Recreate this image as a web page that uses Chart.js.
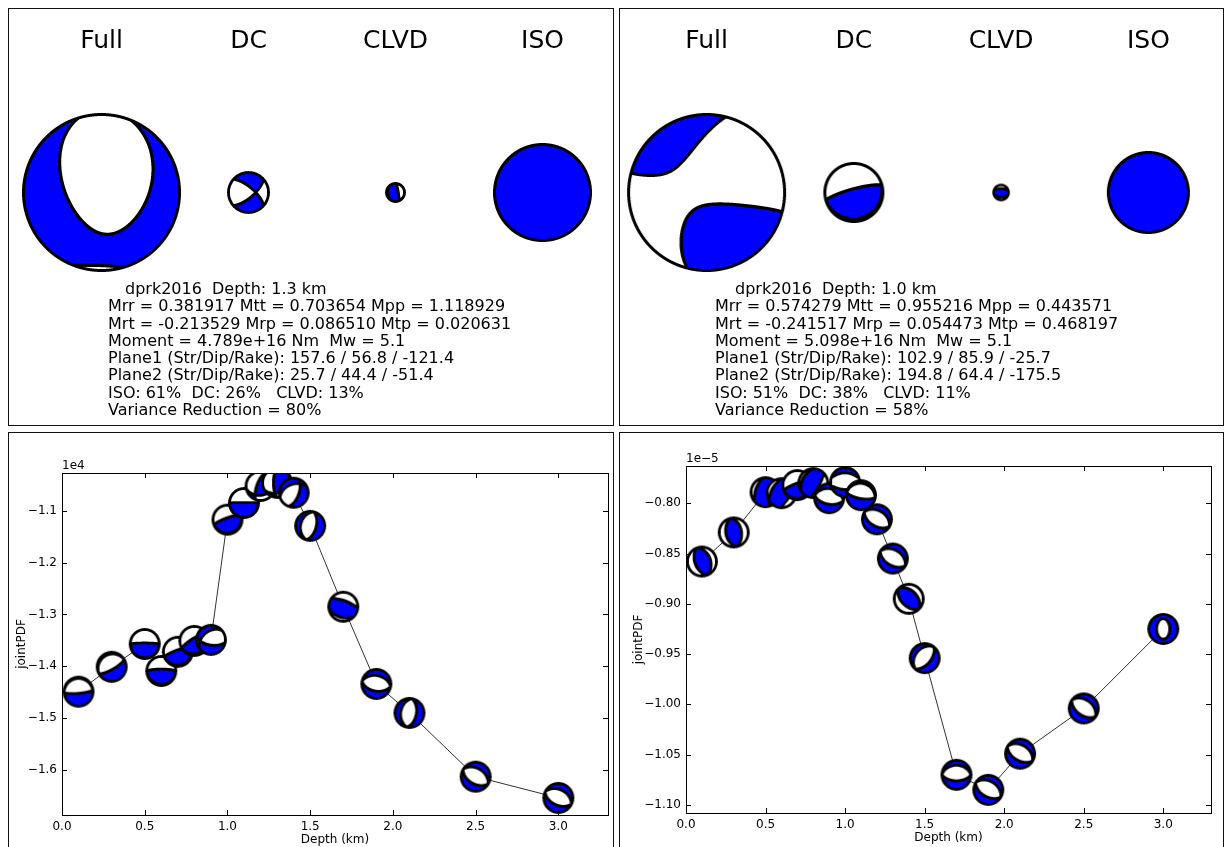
<!DOCTYPE html>
<html>
<head>
  <title>dprk2016 moment tensor vs depth</title>
  <script src="https://cdn.jsdelivr.net/npm/chart.js"></script>
  <style>
    body {
      margin: 0;
      background: #fff;
      font-family: "DejaVu Sans", sans-serif;
    }
    .panel {
      position: absolute;
      box-sizing: border-box;
      border: 1px solid #111;
      overflow: hidden;
    }
    .panel canvas {
      position: absolute;
      left: 0;
      top: 0;
    }
    .info {
      position: absolute;
      font-size: 16px;
      line-height: 17.3px;
      white-space: pre;
      color: #000;
    }
  </style>
</head>
<body>

  <!-- top panels: mechanism + text -->
  <div class="panel" style="left:8px; top:8px; width:606px; height:418px;">
    <canvas id="topLeft" width="612" height="323"></canvas>
    <div class="info" id="infoLeft" style="left:99px; top:271px;"></div>
  </div>
  <div class="panel" style="left:619px; top:8px; width:605px; height:418px;">
    <canvas id="topRight" width="607" height="323"></canvas>
    <div class="info" id="infoRight" style="left:95px; top:271px;"></div>
  </div>

  <!-- bottom panels: jointPDF vs depth -->
  <div class="panel" style="left:8px; top:432px; width:606px; height:420px;">
    <canvas id="pdfLeft" width="604" height="418"></canvas>
  </div>
  <div class="panel" style="left:619px; top:432px; width:605px; height:420px;">
    <canvas id="pdfRight" width="603" height="418"></canvas>
  </div>

  <script>
    // ---- data ----
    var components = ['Full', 'DC', 'CLVD', 'ISO'];

    // Mrr, Mtt, Mpp, Mrt, Mrp, Mtp
    var tensorLeft = [0.381917, 0.703654, 1.118929, -0.213529, 0.086510, 0.020631];
    var tensorRight = [0.574279, 0.955216, 0.443571, -0.241517, 0.054473, 0.468197];

    // DC part as T trend/plunge, P trend/plunge
    var dcAxesLeft = [0, 0, 270, 30];
    var dcAxesRight = [165, 55, 345, 35];

    var infoLeft = [
      'dprk2016  Depth: 1.3 km',
      'Mrr = 0.381917 Mtt = 0.703654 Mpp = 1.118929',
      'Mrt = -0.213529 Mrp = 0.086510 Mtp = 0.020631',
      'Moment = 4.789e+16 Nm  Mw = 5.1',
      'Plane1 (Str/Dip/Rake): 157.6 / 56.8 / -121.4',
      'Plane2 (Str/Dip/Rake): 25.7 / 44.4 / -51.4',
      'ISO: 61%  DC: 26%   CLVD: 13%',
      'Variance Reduction = 80%'
    ];
    var infoRight = [
      'dprk2016  Depth: 1.0 km',
      'Mrr = 0.574279 Mtt = 0.955216 Mpp = 0.443571',
      'Mrt = -0.241517 Mrp = 0.054473 Mtp = 0.468197',
      'Moment = 5.098e+16 Nm  Mw = 5.1',
      'Plane1 (Str/Dip/Rake): 102.9 / 85.9 / -25.7',
      'Plane2 (Str/Dip/Rake): 194.8 / 64.4 / -175.5',
      'ISO: 51%  DC: 38%   CLVD: 11%',
      'Variance Reduction = 58%'
    ];

    var depths = [0.1, 0.3, 0.5, 0.6, 0.7, 0.8, 0.9, 1.0, 1.1, 1.2, 1.3, 1.4, 1.5, 1.7, 1.9, 2.1, 2.5, 3.0];

    // jointPDF, left in units of 1e4, right in units of 1e-5
    var pdfLeft = [-1.449, -1.401, -1.357, -1.409, -1.372, -1.351, -1.349, -1.117, -1.085, -1.052, -1.046, -1.065, -1.129, -1.285, -1.434, -1.490, -1.613, -1.654];
    var pdfRight = [-0.858, -0.829, -0.789, -0.790, -0.782, -0.780, -0.795, -0.779, -0.792, -0.816, -0.855, -0.895, -0.954, -1.070, -1.085, -1.049, -1.004, -0.925];

    // markers: strike / dip / rake / isotropic shift
    var strikeLeft = [85, 60, 270, 270, 250, 240, 100, 250, 270, 200, 180, 20, 15, 290, 100, 10, 120, 115];
    var dipLeft = [80, 75, 85, 80, 80, 75, 60, 80, 88, 70, 70, 60, 55, 60, 48, 50, 48, 48];
    var rakeLeft = [-90, -90, 90, 90, 90, 90, -60, 90, 90, 60, 60, -120, -90, 90, -90, -90, -90, -90];
    var shiftLeft = [0, 0, 0, 0, 0, 0, 0, 0, 0, 0, 0, 0, 0, 0.15, 0, 0, 0, 0];

    var strikeRight = [160, 170, 200, 210, 250, 30, 100, 90, 100, 120, 120, 135, 40, 90, 120, 120, 125, 0];
    var dipRight = [50, 45, 40, 40, 80, 60, 55, 50, 70, 50, 50, 48, 55, 55, 50, 50, 50, 45];
    var rakeRight = [90, 90, 90, 90, 90, 90, -90, -90, -90, -90, -90, 90, -90, -90, -90, -90, -90, -90];
    var shiftRight = [0, 0, 0.3, 0.3, 0, 0.2, 0, -0.1, 0, 0, 0, 0, 0, 0, 0, 0, 0, 0.25];

    var xTicks = [0.0, 0.5, 1.0, 1.5, 2.0, 2.5, 3.0];
    var yTicksLeft = [-1.1, -1.2, -1.3, -1.4, -1.5, -1.6];
    var yTicksRight = [-0.80, -0.85, -0.90, -0.95, -1.00, -1.05, -1.10];

    // ---- beachball drawing ----
    function dcTensor(strike, dip, rake) {
      var f = strike * Math.PI / 180, d = dip * Math.PI / 180, l = rake * Math.PI / 180;
      var sd = Math.sin(d), cd = Math.cos(d), s2d = Math.sin(2 * d), c2d = Math.cos(2 * d);
      var sl = Math.sin(l), cl = Math.cos(l), sf = Math.sin(f), cf = Math.cos(f);
      var s2f = Math.sin(2 * f), c2f = Math.cos(2 * f);
      var nn = -(sd * cl * s2f + s2d * sl * sf * sf);
      var ne = sd * cl * c2f + 0.5 * s2d * sl * s2f;
      var nd = -(cd * cl * cf + c2d * sl * sf);
      var ee = sd * cl * s2f - s2d * sl * cf * cf;
      var ed = -(cd * cl * sf - c2d * sl * cf);
      var dd = s2d * sl;
      return [[nn, ne, nd], [ne, ee, ed], [nd, ed, dd]];
    }

    function axisVec(trend, plunge) {
      var t = trend * Math.PI / 180, p = plunge * Math.PI / 180;
      return [Math.cos(p) * Math.cos(t), Math.cos(p) * Math.sin(t), Math.sin(p)];
    }

    function dcFromAxes(ax) {
      var T = axisVec(ax[0], ax[1]), P = axisVec(ax[2], ax[3]);
      var M = [[0, 0, 0], [0, 0, 0], [0, 0, 0]];
      for (var i = 0; i < 3; i++) for (var j = 0; j < 3; j++) M[i][j] = T[i] * T[j] - P[i] * P[j];
      return M;
    }

    function rtpToNed(m) {
      return [[m[1], -m[5], m[3]], [-m[5], m[2], -m[4]], [m[3], -m[4], m[0]]];
    }

    function makeBall(M, shift, R, lw) {
      var S = 4;
      var size = Math.ceil(2 * R + lw + 2);
      var G = size * S, half = size / 2;
      var sign = new Int8Array(G * G);
      var distArr = new Float32Array(G * G);
      for (var j = 0; j < G; j++) {
        for (var i = 0; i < G; i++) {
          var px = (i + 0.5) / S - half, py = (j + 0.5) / S - half;
          var dist = Math.sqrt(px * px + py * py);
          distArr[j * G + i] = dist;
          if (dist >= R) continue;
          var e = px / R, n = -py / R, rr = dist / R;
          var inc = 2 * Math.asin(rr / Math.SQRT2);
          var si = Math.sin(inc);
          var vec = [rr > 0 ? si * n / rr : 0, rr > 0 ? si * e / rr : 0, Math.cos(inc)];
          var q = shift;
          for (var a = 0; a < 3; a++) for (var b = 0; b < 3; b++) q += M[a][b] * vec[a] * vec[b];
          sign[j * G + i] = q > 0 ? 1 : -1;
        }
      }
      // nodal lines: paint a disk around every sign change
      var line = new Uint8Array(G * G);
      var rad = lw / 2 * S, ri = Math.ceil(rad);
      function paint(ci, cj) {
        for (var dj = -ri; dj <= ri; dj++) {
          for (var di = -ri; di <= ri; di++) {
            if (di * di + dj * dj > rad * rad) continue;
            var x = ci + di, y = cj + dj;
            if (x >= 0 && y >= 0 && x < G && y < G) line[y * G + x] = 1;
          }
        }
      }
      for (var j2 = 0; j2 < G - 1; j2++) {
        for (var i2 = 0; i2 < G - 1; i2++) {
          var s0 = sign[j2 * G + i2];
          if (!s0) continue;
          var sr = sign[j2 * G + i2 + 1], sb = sign[(j2 + 1) * G + i2];
          if ((sr && sr !== s0) || (sb && sb !== s0)) paint(i2, j2);
        }
      }
      var cv = document.createElement('canvas');
      cv.width = size; cv.height = size;
      var c = cv.getContext('2d');
      var img = c.createImageData(size, size);
      for (var y0 = 0; y0 < size; y0++) {
        for (var x0 = 0; x0 < size; x0++) {
          var sr2 = 0, sg = 0, sbl = 0, sa = 0;
          for (var sj = 0; sj < S; sj++) {
            for (var sii = 0; sii < S; sii++) {
              var k = (y0 * S + sj) * G + (x0 * S + sii);
              var dk = distArr[k];
              if (dk > R + lw / 2) continue;
              sa += 1;
              if (dk >= R - lw / 2 || line[k]) continue;
              if (sign[k] > 0) { sbl += 255; } else { sr2 += 255; sg += 255; sbl += 255; }
            }
          }
          var p = (y0 * size + x0) * 4;
          if (sa > 0) {
            img.data[p] = sr2 / sa; img.data[p + 1] = sg / sa; img.data[p + 2] = sbl / sa;
            img.data[p + 3] = 255 * sa / (S * S);
          }
        }
      }
      c.putImageData(img, 0, 0);
      return cv;
    }

    Chart.defaults.font.family = '"DejaVu Sans", sans-serif';
    Chart.defaults.color = '#000';

    // ---- top panels ----
    var topLeftBalls = [
      makeBall(rtpToNed(tensorLeft), -0.75, 78, 3),
      makeBall(dcFromAxes(dcAxesLeft), 0, 20, 2.8),
      makeBall(dcTensor(350, 70, 90), 0.2, 9, 2.8),
      makeBall(dcTensor(0, 45, 90), 10, 48, 3)
    ];
    var topRightBalls = [
      makeBall(rtpToNed(tensorRight), -0.7, 78, 3),
      makeBall(dcFromAxes(dcAxesRight), 0, 29, 3),
      makeBall(dcTensor(90, 40, 90), 0.1, 7.5, 2.5),
      makeBall(dcTensor(0, 45, 90), 10, 40, 3)
    ];

    function topChart(id, balls, padLeft) {
      return new Chart(document.getElementById(id), {
        type: 'line',
        data: {
          labels: components,
          datasets: [{
            data: components.map(function () { return 0; }),
            showLine: false,
            pointStyle: balls,
            clip: false
          }]
        },
        options: {
          responsive: false,
          animation: false,
          events: [],
          layout: { padding: { left: padLeft, right: 0, top: 0, bottom: 0 } },
          plugins: { legend: { display: false }, tooltip: { enabled: false } },
          scales: {
            x: {
              type: 'category',
              position: 'top',
              offset: true,
              grid: { display: false, drawTicks: false },
              border: { display: false },
              ticks: { font: { size: 25 }, padding: 2, color: '#000' },
              afterFit: function (s) { s.height = 49; }
            },
            y: { display: false, min: -1, max: 1 }
          }
        }
      });
    }
    topChart('topLeft', topLeftBalls, 19);
    topChart('topRight', topRightBalls, 13);

    function fillInfo(id, lines, indent) {
      var box = document.getElementById(id);
      lines.forEach(function (t, i) {
        var d = document.createElement('div');
        d.textContent = t;
        if (i === 0) d.style.paddingLeft = indent + 'px';
        box.appendChild(d);
      });
    }
    fillInfo('infoLeft', infoLeft, 17);
    fillInfo('infoRight', infoRight, 20);

    // ---- bottom panels ----
    var axesFrame = {
      id: 'axesFrame',
      afterDraw: function (chart, args, opts) {
        var ctx = chart.ctx, a = chart.chartArea, x = chart.scales.x, y = chart.scales.y;
        ctx.save();
        ctx.strokeStyle = '#000';
        ctx.lineWidth = 1;
        ctx.strokeRect(Math.round(a.left) + 0.5, Math.round(a.top) + 0.5, Math.round(a.right - a.left), Math.round(a.bottom - a.top));
        ctx.beginPath();
        x.ticks.forEach(function (t) {
          var px = Math.round(x.getPixelForValue(t.value)) + 0.5;
          ctx.moveTo(px, a.bottom); ctx.lineTo(px, a.bottom - 5);
          ctx.moveTo(px, a.top); ctx.lineTo(px, a.top + 5);
        });
        y.ticks.forEach(function (t) {
          var py = Math.round(y.getPixelForValue(t.value)) + 0.5;
          ctx.moveTo(a.left, py); ctx.lineTo(a.left + 5, py);
          ctx.moveTo(a.right, py); ctx.lineTo(a.right - 5, py);
        });
        ctx.stroke();
        ctx.fillStyle = '#000';
        ctx.font = '12px "DejaVu Sans"';
        ctx.textBaseline = 'bottom';
        ctx.fillText(opts.offset, a.left, a.top - 1);
        ctx.restore();
      }
    };

    function fmt(v, digits) {
      var s = Math.abs(v).toFixed(digits);
      return v < 0 ? '\u2212' + s : s;
    }

    function pdfChart(id, values, strikes, dips, rakes, shifts, yTicks, yMin, yMax, digits, offset, box) {
      var balls = depths.map(function (d, i) {
        return makeBall(dcTensor(strikes[i], dips[i], rakes[i]), shifts[i], 14.5, 2.8);
      });
      return new Chart(document.getElementById(id), {
        type: 'line',
        data: {
          datasets: [{
            data: depths.map(function (d, i) { return { x: d, y: values[i] }; }),
            borderColor: '#333',
            borderWidth: 1,
            pointStyle: balls,
            clip: 0
          }]
        },
        options: {
          responsive: false,
          animation: false,
          events: [],
          layout: { padding: { left: 0, right: box.right, top: box.top, bottom: 0 } },
          plugins: { legend: { display: false }, tooltip: { enabled: false }, axesFrame: { offset: offset } },
          scales: {
            x: {
              type: 'linear',
              min: 0,
              max: 3.3,
              grid: { display: false, drawTicks: false },
              border: { display: false },
              afterBuildTicks: function (s) { s.ticks = xTicks.map(function (v) { return { value: v }; }); },
              ticks: { font: { size: 12 }, padding: 5, callback: function (v) { return v.toFixed(1); } },
              title: { display: true, text: 'Depth (km)', font: { size: 12 }, padding: { top: 0, bottom: box.titleBottom } },
              afterFit: function (s) { s.height = box.xHeight; }
            },
            y: {
              type: 'linear',
              min: yMin,
              max: yMax,
              grid: { display: false, drawTicks: false },
              border: { display: false },
              afterBuildTicks: function (s) { s.ticks = yTicks.map(function (v) { return { value: v }; }); },
              ticks: { font: { size: 12 }, padding: 5, callback: function (v) { return fmt(v, digits); } },
              title: { display: true, text: 'jointPDF', font: { size: 12 }, padding: { top: box.titleLeft, bottom: 0 } },
              afterFit: function (s) { s.width = box.yWidth; }
            }
          }
        },
        plugins: [axesFrame]
      });
    }

    pdfChart('pdfLeft', pdfLeft, strikeLeft, dipLeft, rakeLeft, shiftLeft, yTicksLeft, -1.687, -1.027, 1, '1e4',
      { top: 40, right: 3, xHeight: 36, yWidth: 53, titleBottom: 4, titleLeft: 6 });
    pdfChart('pdfRight', pdfRight, strikeRight, dipRight, rakeRight, shiftRight, yTicksRight, -1.108, -0.763, 2, '1e\u22125',
      { top: 33, right: 12, xHeight: 38, yWidth: 66, titleBottom: 6, titleLeft: 12 });
  </script>

</body>
</html>
